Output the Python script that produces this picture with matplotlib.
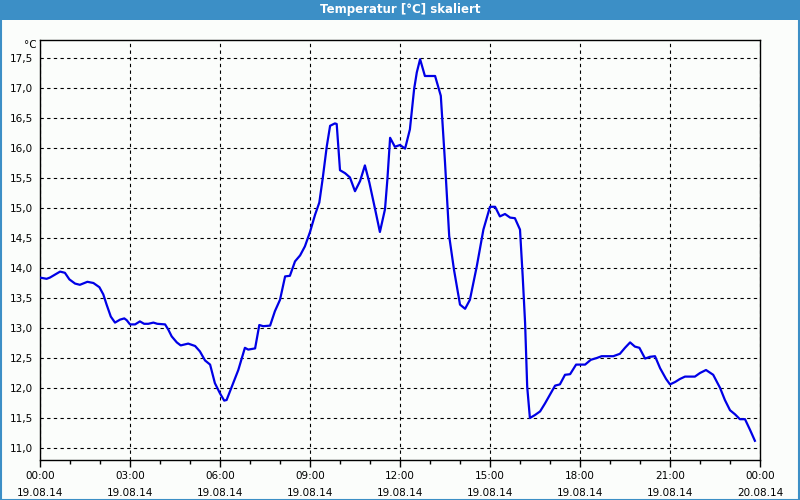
import matplotlib
matplotlib.use("Agg")
import matplotlib.pyplot as plt
from matplotlib.patches import Rectangle
from matplotlib.ticker import MultipleLocator

title = "Temperatur [°C] skaliert"
unit_label = "°C"

hours = [0, 0.22, 0.33, 0.5, 0.67, 0.83, 0.98, 1.17, 1.33, 1.58, 1.78, 1.98, 2.11, 2.22,
         2.36, 2.5, 2.67, 2.81, 2.89, 3.0, 3.17, 3.33, 3.47, 3.61, 3.78, 3.91, 4.17, 4.28,
         4.39, 4.56, 4.69, 4.94, 5.17, 5.33, 5.5, 5.67, 5.83, 6.0, 6.14, 6.22, 6.39, 6.61,
         6.83, 6.94, 7.17, 7.31, 7.44, 7.67, 7.83, 8.0, 8.17, 8.33, 8.5, 8.67, 8.83, 9.0,
         9.17, 9.31, 9.42, 9.56, 9.67, 9.83, 9.89, 10.0, 10.17, 10.33, 10.5, 10.67, 10.83,
         10.98, 11.17, 11.33, 11.5, 11.58, 11.67, 11.83, 12.0, 12.17, 12.33, 12.47, 12.56,
         12.67, 12.83, 13.17, 13.36, 13.5, 13.64, 13.8, 14.0, 14.17, 14.33, 14.56, 14.78,
         15.0, 15.17, 15.33, 15.5, 15.67, 15.83, 16.0, 16.09, 16.17, 16.24, 16.33, 16.5,
         16.67, 16.83, 17.0, 17.17, 17.33, 17.5, 17.67, 17.87, 18.17, 18.36, 18.56, 18.72,
         19.11, 19.33, 19.5, 19.67, 19.83, 19.98, 20.17, 20.33, 20.5, 20.67, 20.87, 21.0,
         21.17, 21.33, 21.5, 21.83, 22.0, 22.2, 22.44, 22.67, 22.83, 23.0, 23.17, 23.33,
         23.5, 23.67, 23.83]

temps = [13.84, 13.82, 13.84, 13.89, 13.94, 13.92, 13.81, 13.74, 13.72, 13.77, 13.75, 13.68,
         13.56, 13.39, 13.19, 13.09, 13.14, 13.16, 13.13, 13.06, 13.06, 13.11, 13.07, 13.07,
         13.09, 13.07, 13.06, 12.97, 12.86, 12.76, 12.71, 12.74, 12.70, 12.61, 12.46, 12.39,
         12.08, 11.91, 11.79, 11.80, 12.02, 12.30, 12.67, 12.64, 12.66, 13.05, 13.03, 13.04,
         13.28, 13.47, 13.86, 13.87, 14.11, 14.21, 14.36, 14.60, 14.89, 15.09, 15.48, 16.03,
         16.37, 16.41, 16.40, 15.63, 15.58, 15.51, 15.28, 15.45, 15.71, 15.42, 14.98, 14.60,
         14.98, 15.48, 16.17, 16.02, 16.05, 15.99, 16.31, 16.98, 17.26, 17.48, 17.20, 17.20,
         16.87, 15.76, 14.53, 13.97, 13.39, 13.32, 13.47, 14.03, 14.64, 15.02, 15.02, 14.86,
         14.90, 14.84, 14.83, 14.64, 13.86, 13.08, 12.02, 11.50, 11.55, 11.61, 11.74, 11.89,
         12.04, 12.06, 12.22, 12.23, 12.39, 12.39, 12.47, 12.50, 12.53, 12.53, 12.57, 12.67,
         12.76, 12.69, 12.67, 12.49, 12.52, 12.53, 12.33, 12.15, 12.06, 12.10, 12.15, 12.19,
         12.19, 12.25, 12.30, 12.22, 12.00, 11.80, 11.63, 11.56, 11.48, 11.48, 11.30, 11.12]

x_tick_hours = [0, 3, 6, 9, 12, 15, 18, 21, 24]
x_tick_labels = ["00:00\n19.08.14", "03:00\n19.08.14", "06:00\n19.08.14", "09:00\n19.08.14",
                 "12:00\n19.08.14", "15:00\n19.08.14", "18:00\n19.08.14", "21:00\n19.08.14",
                 "00:00\n20.08.14"]
y_ticks = [11.0, 11.5, 12.0, 12.5, 13.0, 13.5, 14.0, 14.5, 15.0, 15.5, 16.0, 16.5, 17.0, 17.5]
y_tick_labels = [f"{v:.1f}".replace(".", ",") for v in y_ticks]

W, H = 800, 500
bg = "#fbfdfb"
bar_col = "#3c8fc6"

fig = plt.figure(figsize=(8, 5), dpi=100, facecolor=bg)

# title bar and border
fig.patches.append(Rectangle((0, 1 - 20 / H), 1, 20 / H, transform=fig.transFigure,
                             facecolor=bar_col, edgecolor="none", zorder=0))
fig.patches.append(Rectangle((0.5 / W, 0.5 / H), 1 - 1.5 / W, 1 - 1.5 / H,
                             transform=fig.transFigure, facecolor="none",
                             edgecolor=bar_col, lw=1.5, zorder=1))
fig.text(0.5, 1 - 10 / H, title, color="white", fontsize=8.5, fontweight="bold",
         ha="center", va="center", family="DejaVu Sans")

ax = fig.add_axes([40 / W, 40 / H, 720 / W, 420 / H])
ax.set_facecolor(bg)
ax.plot(hours, temps, color="#0000e6", lw=1.6, solid_joinstyle="round", zorder=3)

ax.set_xlim(0, 24)
ax.set_ylim(10.8, 17.8)
ax.set_xticks(x_tick_hours)
ax.set_xticklabels(x_tick_labels, fontsize=7.5, linespacing=1.8)
ax.xaxis.set_minor_locator(MultipleLocator(1))
ax.set_yticks(y_ticks)
ax.set_yticklabels(y_tick_labels, fontsize=7.5)

ax.tick_params(axis="x", which="major", direction="out", length=5, width=1, pad=3, colors="black")
ax.tick_params(axis="x", which="minor", direction="out", length=3, width=1, colors="black")
ax.tick_params(axis="y", which="major", length=0, pad=5, colors="black")

ax.grid(True, which="major", color="black", linestyle=(0, (3, 3)), lw=0.8)
for s in ax.spines.values():
    s.set_color("black")
    s.set_linewidth(1)

fig.text(37 / W, 1 - 45 / H, unit_label, fontsize=7.5, ha="right", va="center")

fig.savefig("out.png", dpi=100, facecolor=bg)
